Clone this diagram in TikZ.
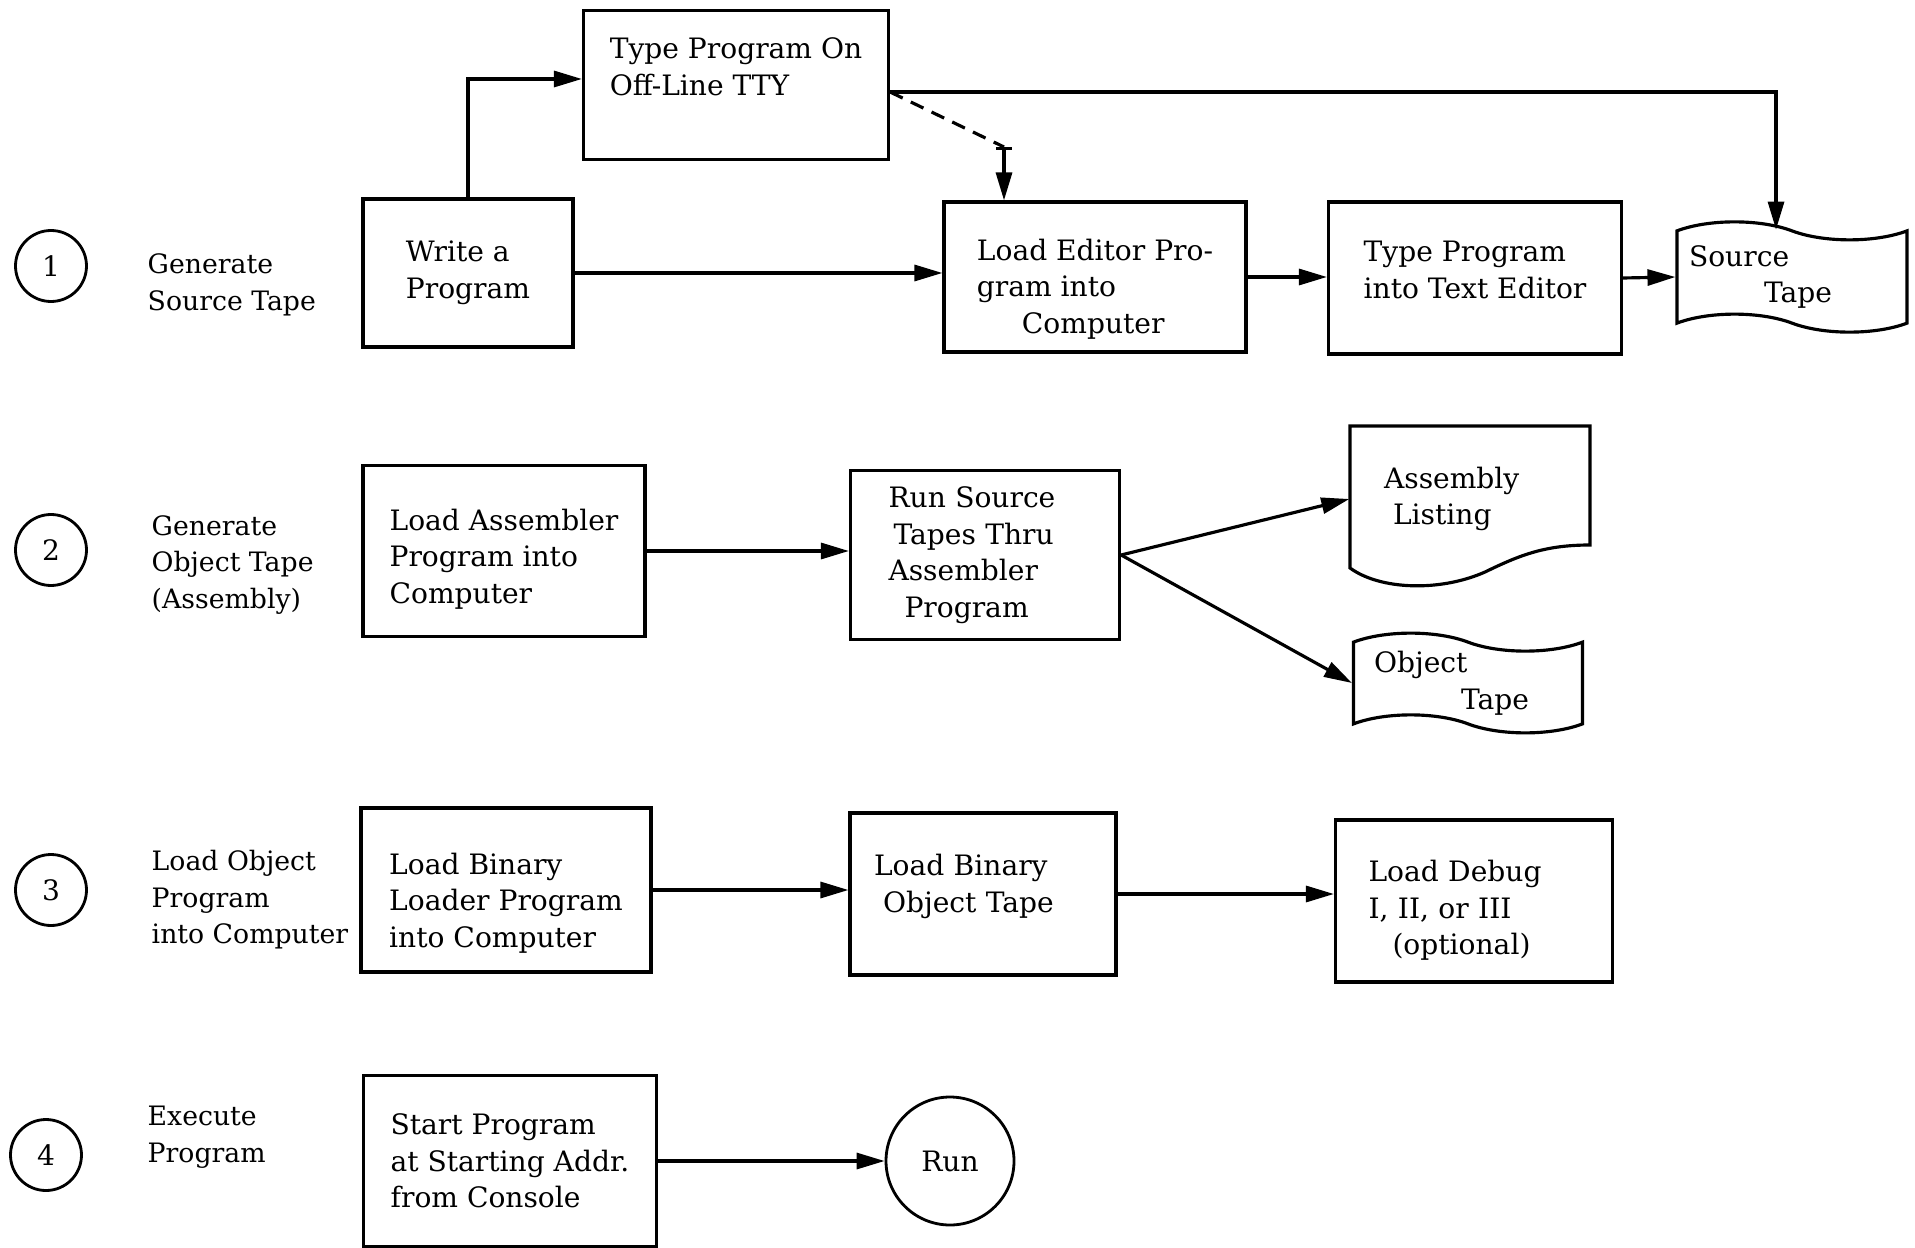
\documentclass[tikz,border=0pt]{standalone}
\usepackage{fontspec}
\setmainfont{DejaVu Serif}
\usetikzlibrary{arrows.meta,shapes.symbols}

\begin{document}
\begin{tikzpicture}[
    every node/.style={font=\fontsize{8}{10.4}\selectfont},
    box/.style={draw, rectangle, line width=0.9pt, align=left},
    num/.style={draw, circle, line width=0.8pt, minimum size=0.71cm, inner sep=0pt},
    steplabel/.style={anchor=west, align=left, inner sep=0pt, font=\fontsize{7.6}{10.4}\selectfont},
    papertape/.style={draw, tape, line width=0.9pt, tape bend top=out and in, tape bend bottom=out and in, tape bend height=0.18cm, inner ysep=0pt, align=left},
    flow/.style={-{Triangle[length=2.8mm,width=1.6mm]}, line width=0.9pt}
]
\useasboundingbox (0,0) rectangle (19.15,-12.48);

\node[num] (n1) at (0.51,-2.66) {1};
\node[num] (n2) at (0.51,-5.50) {2};
\node[num] (n3) at (0.51,-8.90) {3};
\node[num] (n4) at (0.46,-11.55) {4};

\node[steplabel] (lab1) at (1.47,-2.85) {Generate\\Source Tape};
\node[steplabel] (lab2) at (1.51,-5.65) {Generate\\Object Tape\\(Assembly)};
\node[steplabel] (lab3) at (1.51,-9.00) {Load Object\\Program\\into Computer};
\node[steplabel] (lab4) at (1.47,-11.37) {Execute\\Program};

\node[box, minimum width=3.05cm, minimum height=1.49cm] (tty) at (7.36,-0.85) {Type Program On\\Off-Line TTY\\\mbox{}};
\node[box, minimum width=2.10cm, minimum height=1.48cm] (write) at (4.68,-2.73) {Write a\\Program};
\node[box, minimum width=3.02cm, minimum height=1.50cm] (editor) at (10.95,-2.77) {\rule{0pt}{0.45cm}Load Editor Pro-\\gram into\\\hspace*{0.45cm}Computer};
\node[box, minimum width=2.93cm, minimum height=1.52cm] (textedit) at (14.75,-2.78) {Type Program\\into Text Editor\\[-0.2cm]\mbox{}};
\node[papertape, inner ysep=0.055cm, minimum width=2.30cm, text width=2.06cm] (srctape) at (17.92,-2.77) {Source\\\hspace*{0.75cm}Tape};

\node[box, minimum width=2.82cm, minimum height=1.71cm] (assem) at (5.04,-5.51) {\rule{0pt}{0.37cm}Load Assembler\\Program into\\Computer};
\node[box, minimum width=2.69cm, minimum height=1.69cm, text width=1.93cm] (runsrc) at (9.85,-5.55) {Run Source\\\hspace*{0.05cm}Tapes Thru\\Assembler\\\hspace*{0.16cm}Program};
\node[minimum width=2.40cm, text width=1.72cm, align=left] (listing) at (14.70,-4.99) {Assembly\\\hspace*{0.09cm}Listing};
\draw[line width=0.9pt] (13.50,-4.26) -- (15.90,-4.26) -- (15.90,-5.45)
    .. controls (15.45,-5.45) and (15.20,-5.55) .. (14.85,-5.72)
    .. controls (14.40,-5.92) and (13.80,-5.90) .. (13.50,-5.68) -- cycle;
\node[papertape, minimum width=2.29cm, text width=1.88cm] (objtape) at (14.68,-6.83) {Object\\\hspace*{0.87cm}Tape};

\node[box, minimum width=2.90cm, minimum height=1.64cm] (loader) at (5.06,-8.90) {\rule{0pt}{0.47cm}Load Binary\\Loader Program\\into Computer};
\node[box, minimum width=2.66cm, minimum height=1.62cm, text width=2.18cm] (binobj) at (9.83,-8.94) {Load Binary\\\hspace*{0.09cm}Object Tape\\[-0.15cm]\mbox{}};
\node[box, minimum width=2.77cm, minimum height=1.62cm, text width=2.11cm] (debug) at (14.74,-9.01) {\rule{0pt}{0.40cm}Load Debug\\I, II, or III\\\hspace*{0.24cm}(optional)};

\node[box, minimum width=2.93cm, minimum height=1.71cm] (start) at (5.10,-11.61) {Start Program\\at Starting Addr.\\from Console};
\node[num, minimum size=1.28cm] (run) at (9.50,-11.61) {Run};

\draw[flow] (write.north) |- ([yshift=0.06cm]tty.west);
\draw[flow] ([yshift=-0.07cm]tty.east) -| ([xshift=-0.16cm]srctape.north);
\coordinate (dbend) at (10.04,-1.47);
\draw[line width=0.9pt, dash pattern=on 1.4mm off 0.9mm] ([yshift=-0.07cm]tty.east) -- (dbend);
\draw[{Bar[width=1.6mm]}-{Triangle[length=2.8mm,width=1.6mm]}, line width=0.9pt] (dbend) -- (dbend |- editor.north);
\draw[flow] (write.east) -- (write.east -| editor.west);
\draw[flow] (editor.east) -- (editor.east -| textedit.west);
\draw[flow] (textedit.east) -- (srctape.west);

\draw[flow] (assem.east) -- (assem.east -| runsrc.west);
\draw[flow] (runsrc.east) -- (listing.west);
\draw[flow] (runsrc.east) -- (objtape.west);

\draw[flow] (loader.east) -- (loader.east -| binobj.west);
\draw[flow] (binobj.east) -- (binobj.east -| debug.west);

\draw[flow] (start.east) -- (run.west);
\end{tikzpicture}
\end{document}
